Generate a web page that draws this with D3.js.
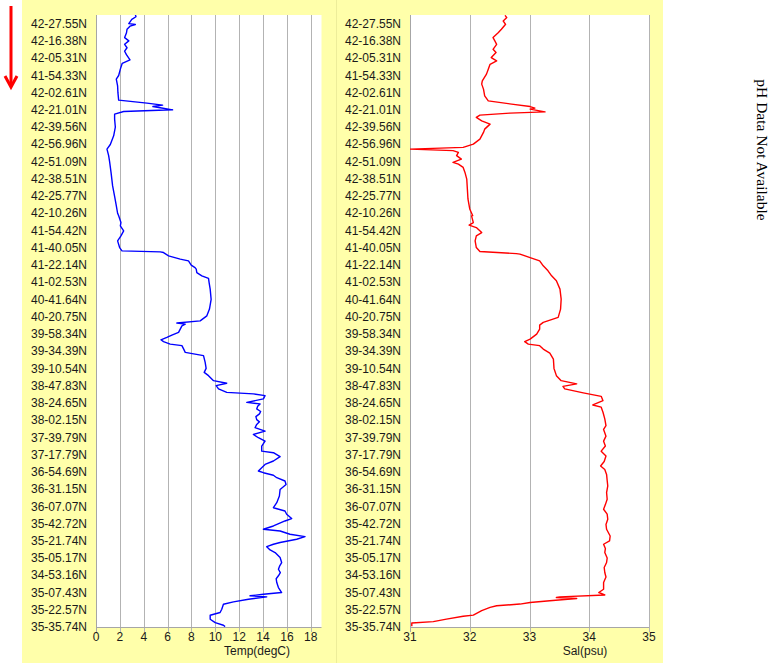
<!DOCTYPE html>
<html><head><meta charset="utf-8">
<script src="https://cdn.jsdelivr.net/npm/d3@7"></script>
<style>body{margin:0;background:#fff}svg{display:block}</style>
</head><body>
<svg id="c" width="774" height="665"></svg>
<script>
const latLabels = ["42-27.55N","42-16.38N","42-05.31N","41-54.33N","42-02.61N","42-21.01N","42-39.56N","42-56.96N","42-51.09N","42-38.51N","42-25.77N","42-10.26N","41-54.42N","41-40.05N","41-22.14N","41-02.53N","40-41.64N","40-20.75N","39-58.34N","39-34.39N","39-10.54N","38-47.83N","38-24.65N","38-02.15N","37-39.79N","37-17.79N","36-54.69N","36-31.15N","36-07.07N","35-42.72N","35-21.74N","35-05.17N","34-53.16N","35-07.43N","35-22.57N","35-35.74N"];

// position along track, in label-index units (label i sits at i)
const tempPos = [-0.54,-0.4,-0.25,0.0,0.05,0.15,0.33,0.55,0.81,1.0,1.2,1.4,1.6,1.8,2.1,2.3,2.64,3.01,3.22,3.61,4.02,4.44,4.61,4.73,4.81,4.88,5.0,5.10,5.25,5.54,6.0,6.51,7.01,7.28,7.66,8.01,8.63,9.40,10.02,10.56,11.0,
 11.15,11.54,11.73,12.02,12.31,12.60,12.99,13.18,13.24,13.28,13.47,13.66,13.76,14.01,14.15,14.24,14.44,14.63,14.78,15.02,15.40,16.0,16.56,16.95,17.24,17.37,17.43,17.53,17.72,17.91,18.07,18.20,18.34,18.45,18.59,18.68,18.87,19.07,19.26,19.65,20.0,20.23,20.42,20.71,20.86,21.0,21.19,21.39,21.48,21.58,21.77,21.97,22.06,22.2,22.35,22.5,22.64,22.8,22.97,
 23.1,23.25,23.44,23.64,23.83,24.02,24.22,24.51,24.80,24.89,25.12,25.37,25.57,25.76,25.95,26.05,26.20,26.34,26.53,26.73,27.02,27.40,27.79,28.08,28.27,28.46,28.71,28.85,29.14,29.33,29.43,29.62,29.76,29.91,30.10,30.20,30.34,30.53,30.68,30.97,31.26,31.45,31.65,31.85,32.03,32.2,32.42,32.71,33.0,33.10,33.19,33.25,33.39,33.54,33.68,33.97,34.16,34.32,34.55,34.75,34.90,34.98];
const tempVal = [3.29,3.35,3.0,2.75,3.3,2.85,2.6,2.55,2.4,2.75,2.4,2.6,2.4,2.55,2.85,2.2,2.04,1.9,1.7,1.81,1.84,1.9,4.27,5.58,4.77,5.38,6.42,2.32,1.56,1.56,1.62,1.48,1.2,0.92,1.06,1.14,1.26,1.39,1.56,1.7,1.81,
 1.9,2.09,2.04,2.32,2.09,1.81,1.98,2.18,5.38,5.66,6.08,7.06,7.75,7.98,8.3,8.4,8.45,8.87,9.43,9.48,9.57,9.65,9.51,9.29,8.73,6.78,7.48,7.2,7.06,6.92,6.36,5.94,5.44,5.66,6.22,7.2,7.34,7.48,9.01,9.15,9.23,9.07,9.43,9.85,10.96,10.07,10.27,10.96,13.19,14.17,14.03,12.64,13.75,13.55,13.47,13.8,13.7,13.4,13.47,
 13.7,13.47,13.33,14.17,13.19,13.61,14.17,13.89,13.89,14.87,15.43,14.87,14.17,13.89,13.61,14.03,14.87,15.15,15.84,15.93,15.43,15.37,15.15,14.87,15.84,15.98,16.4,15.84,14.87,14.03,15.43,16.26,17.52,16.82,15.43,14.87,14.31,14.59,15.01,15.43,15.56,15.4,15.29,15.45,15.29,15.1,15.15,15.29,15.56,14.03,12.91,14.31,12.78,11.52,10.68,10.54,10.4,9.57,9.57,9.99,10.68,10.82];

const salPos = [-0.48,-0.35,-0.15,0.04,0.33,0.52,0.81,1.0,1.20,1.49,1.68,1.97,2.16,2.36,2.64,2.93,3.32,3.51,3.80,4.19,4.48,4.67,4.81,4.90,4.96,5.12,5.19,5.31,5.44,5.64,5.83,6.12,6.31,6.70,6.99,7.18,7.28,7.37,7.47,7.66,7.86,8.05,8.15,8.34,8.63,9.02,9.59,10.17,10.75,11.14,
 11.15,11.54,11.69,11.83,12.12,12.31,12.60,12.99,13.22,13.34,13.37,13.57,13.76,14.05,14.34,14.63,14.92,15.40,15.98,16.56,17.04,17.33,17.49,17.72,18.01,18.30,18.45,18.59,18.68,18.88,19.11,19.46,20.0,20.42,20.71,20.90,21.04,21.19,21.42,21.62,21.87,22.12,22.25,22.54,22.93,23.32,
 23.54,23.93,24.22,24.5,24.80,25.08,25.4,25.66,25.86,26.15,26.5,26.82,27.2,27.59,27.9,28.17,28.45,28.75,29.05,29.33,29.72,30.01,30.20,30.45,30.68,31.0,31.26,31.55,31.84,32.1,32.42,32.81,33.0,33.14,33.25,33.29,33.35,33.48,33.58,33.67,33.77,33.86,34.05,34.31,34.38,34.54,34.69,34.77,34.96];
const salVal = [32.59,32.62,32.56,32.60,32.53,32.48,32.39,32.42,32.45,32.39,32.44,32.36,32.45,32.34,32.31,32.28,32.21,32.20,32.23,32.25,32.31,32.70,33.01,33.09,33.01,33.26,32.67,32.17,32.11,32.20,32.34,32.25,32.23,32.17,32.06,31.89,31.00,31.72,31.81,31.78,31.86,31.72,31.81,31.89,31.92,31.95,31.96,31.97,32.0,32.05,
 32.03,32.06,31.99,32.11,32.20,32.11,32.09,32.11,32.17,32.78,32.84,33.01,33.17,33.23,33.31,33.37,33.45,33.51,33.53,33.52,33.48,33.23,33.17,33.17,33.12,33.01,32.92,32.98,33.17,33.23,33.34,33.40,33.41,33.45,33.53,33.79,33.56,33.59,33.90,34.20,34.23,34.06,34.20,34.23,34.26,34.28,
 34.24,34.28,34.24,34.27,34.20,34.28,34.25,34.19,34.26,34.29,34.3,34.31,34.29,34.30,34.27,34.24,34.3,34.31,34.28,34.29,34.35,34.34,34.24,34.27,34.26,34.3,34.29,34.25,34.26,34.28,34.24,34.24,34.16,34.26,33.51,33.45,33.79,33.34,33.01,32.84,32.45,32.34,32.20,32.06,31.89,31.61,31.39,31.03,31.03];

const tempTicks = [0,2,4,6,8,10,12,14,16,18];
const salTicks = [31,32,33,34,35];

const svg = d3.select("#c");
const FONT = "'Liberation Sans', Arial, sans-serif";
const yellow = "#ffffaa";

// panels
svg.append("rect").attr("x",22).attr("y",0).attr("width",314).attr("height",663).attr("fill",yellow);
svg.append("rect").attr("x",336).attr("y",0).attr("width",327).attr("height",663).attr("fill",yellow);
svg.append("line").attr("x1",336.5).attr("x2",336.5).attr("y1",0).attr("y2",663).attr("stroke","#eded9a").attr("stroke-width",1);

const y = d3.scaleLinear().domain([-0.5, 35]).range([15, 627]);

function panel(opts){
  const {x0,x1,domain,ticks,pos,val,color,title,titleX,id} = opts;
  const x = d3.scaleLinear().domain(domain).range([x0,x1]);
  const g = svg.append("g");
  g.append("rect").attr("x",x0).attr("y",15).attr("width",x1-x0).attr("height",612).attr("fill","#fff");
  // grid
  g.selectAll(".grid").data(ticks.slice(1)).enter().append("line")
    .attr("x1",d=>Math.round(x(d))+0.5).attr("x2",d=>Math.round(x(d))+0.5)
    .attr("y1",15).attr("y2",632).attr("stroke","#b3b3b3").attr("stroke-width",1);
  // axes lines
  g.append("line").attr("x1",x0+0.5).attr("x2",x0+0.5).attr("y1",15).attr("y2",632).attr("stroke","#a6a6a6");
  g.append("line").attr("x1",x0).attr("x2",x1).attr("y1",627.5).attr("y2",627.5).attr("stroke","#a6a6a6");
  // y labels
  g.selectAll(".yl").data(latLabels).enter().append("text")
    .attr("x",x0-9).attr("y",(d,i)=>y(i)).attr("dy","0.35em")
    .attr("text-anchor","end").attr("font-family",FONT).attr("font-size",12).attr("fill","#1a1a1a")
    .text(d=>d);
  // x labels
  g.selectAll(".xl").data(ticks).enter().append("text")
    .attr("x",d=>x(d)).attr("y",641).attr("text-anchor","middle")
    .attr("font-family",FONT).attr("font-size",12).attr("fill","#1a1a1a").text(d=>d);
  g.append("text").attr("x",titleX).attr("y",655).attr("text-anchor","middle")
    .attr("font-family",FONT).attr("font-size",12).attr("fill","#1a1a1a").text(title);
  // clip + line
  svg.append("clipPath").attr("id",id).append("rect").attr("x",x0).attr("y",15).attr("width",x1-x0).attr("height",612);
  const pts = pos.map((p,i)=>[p,val[i]]);
  const line = d3.line().x(d=>x(d[1])).y(d=>y(d[0]));
  g.append("path").datum(pts).attr("d",line).attr("fill","none")
    .attr("stroke",color).attr("stroke-width",1.4).attr("stroke-linejoin","round")
    .attr("clip-path",`url(#${id})`);
}

panel({x0:96,x1:321.5,domain:[0,18.9],ticks:tempTicks,pos:tempPos,val:tempVal,color:"#0000ff",title:"Temp(degC)",titleX:257,id:"c1"});
panel({x0:410,x1:649,domain:[31,35],ticks:salTicks,pos:salPos,val:salVal,color:"#ff0000",title:"Sal(psu)",titleX:585,id:"c2"});

// red arrow
svg.append("line").attr("x1",11).attr("x2",11).attr("y1",6).attr("y2",85).attr("stroke","#ff0000").attr("stroke-width",3);
svg.append("path").attr("d","M5,76 L11,87 L17,76").attr("fill","none").attr("stroke","#ff0000").attr("stroke-width",3).attr("stroke-linejoin","miter");

// pH text
svg.append("text").attr("transform","translate(757,150) rotate(90)").attr("text-anchor","middle")
  .attr("font-family","'Liberation Serif','Times New Roman',serif").attr("font-size",15.5).attr("fill","#000")
  .text("pH Data Not Available");
</script>
</body></html>
